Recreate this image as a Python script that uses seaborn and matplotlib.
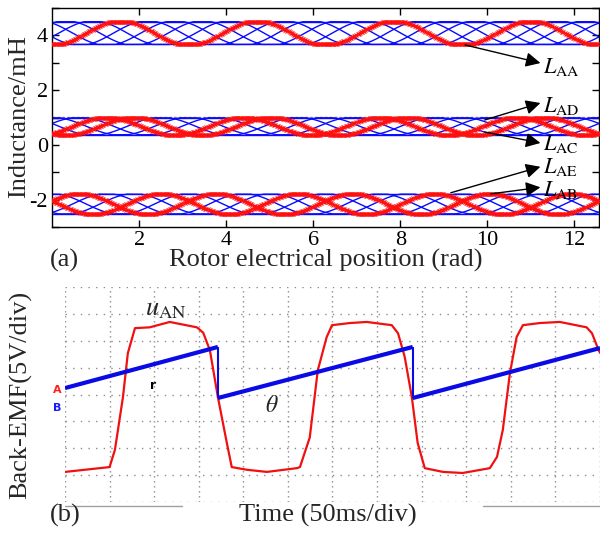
import numpy as np
import matplotlib
matplotlib.use("Agg")
import matplotlib.pyplot as plt
from matplotlib.ticker import MultipleLocator
import seaborn as sns

# ---- (a) inductance profiles of the five-phase machine ----
phases = ["A", "B", "C", "D", "E"]
band_names = ["self", "nonadjacent", "adjacent"]
band_mean = [4.085, 0.68, -2.16]
band_amp = [-0.45, 0.33, 0.38]          # self inductance dips at theta = 0
band_top = [4.50, 0.99, -1.80]          # saturated (flat) upper level
band_bottom = [3.67, 0.37, -2.52]       # flat lower level
band_step = [0, 2, 1]                   # partner phase offset: AA, AC/AD, AB/AE
ref_line = 1.02                         # grey dashed reference above middle band

ann_labels = ["AA", "AD", "AC", "AE", "AB"]
ann_tail_x = [9.49, 9.94, 9.94, 9.16, 10.08]
ann_tail_y = [3.65, 0.91, 0.47, -1.75, -1.79]
ann_head_y = [2.99, 1.53, 0.07, -0.80, -1.55]
ann_text_y = [2.63, 1.20, -0.20, -1.04, -1.86]

# ---- (b) oscilloscope traces, in screen divisions ----
uan_t = [0.0, 1.0, 1.12, 1.30, 1.41, 1.57, 1.90, 2.35, 2.96, 3.10, 3.25, 3.43, 3.63,
         3.74, 4.08, 4.53, 5.20, 5.27, 5.49, 5.67, 5.87, 5.99, 6.39, 6.77, 7.33, 7.47,
         7.62, 7.78, 7.91, 8.07, 8.48, 8.92, 9.53, 9.69, 9.82, 9.98, 10.13, 10.27,
         10.65, 11.10, 11.70, 11.82, 11.95, 12.0]
uan_v = [-2.88, -2.70, -2.06, -0.10, 1.54, 2.47, 2.50, 2.70, 2.50, 2.30, 1.65, -0.10,
         -1.80, -2.70, -2.80, -2.88, -2.74, -2.70, -1.60, 0.90, 2.14, 2.58, 2.66, 2.70,
         2.58, 2.28, 1.40, -0.10, -1.80, -2.74, -2.88, -2.92, -2.74, -2.32, -1.32, 0.80,
         2.14, 2.58, 2.66, 2.70, 2.50, 2.28, 1.73, 1.55]
theta_t = [0.0, 3.43, 3.43, 7.80, 7.80, 12.0]
theta_v = [0.24, 1.77, -0.13, 1.77, -0.13, 1.73]

sns.set_theme(style="white")
plt.rcParams["font.family"] = ["Liberation Serif", "DejaVu Serif"]
plt.rcParams["mathtext.fontset"] = "stix"
plt.rcParams["axes.unicode_minus"] = False

fig = plt.figure(figsize=(6.0, 5.34), dpi=100)
ax1 = fig.add_axes([0.0867, 0.5749, 0.9117, 0.4101])
ax2 = fig.add_axes([0.1083, 0.0599, 0.8917, 0.4026])

theta = np.linspace(0, 4 * np.pi, 1000)
alpha = [2 * np.pi * k / 5 for k in range(len(phases))]


def profile(b, j, k):
    y = band_mean[b] + band_amp[b] * np.cos(2 * theta - alpha[j] - alpha[k])
    return np.clip(y, band_bottom[b], band_top[b])


ax1.axhline(ref_line, color="#8c8c8c", lw=1.0, ls=(0, (2, 1.5)), zorder=1)
red_curves = []
for b, name in enumerate(band_names):
    step = band_step[b]
    for j in range(len(phases)):
        k = (j + step) % 5
        y = profile(b, j, k)
        if j == 0 or k == 0:
            red_curves.append(y)
        else:
            ax1.plot(theta, y, color="#0a0aff", lw=1.0, zorder=2)
    ax1.axhline(band_top[b], color="#0a0aff", lw=1.0, zorder=2)
    ax1.axhline(band_bottom[b], color="#0a0aff", lw=1.0, zorder=2)
for y in red_curves:
    ax1.plot(theta, y, color="#ff1010", lw=0.9, marker="x", markersize=2.2,
             markeredgewidth=0.7, markevery=2, zorder=3)

ax1.set_xlim(0, 4 * np.pi)
ax1.set_ylim(-3, 5)
ax1.set_xticks([2, 4, 6, 8, 10, 12])
ax1.set_yticks([-2, 0, 2, 4])
ax1.yaxis.set_minor_locator(MultipleLocator(1))
ax1.tick_params(which="both", direction="in", top=True, right=True, bottom=True,
                left=True, length=5, width=1, colors="black", labelsize=16, pad=3)
for s in ax1.spines.values():
    s.set_color("black")
    s.set_linewidth(1.0)

for lab, tx, ty, hy, ly in zip(ann_labels, ann_tail_x, ann_tail_y, ann_head_y, ann_text_y):
    ax1.annotate("", xy=(11.22, hy), xytext=(tx, ty),
                 arrowprops=dict(arrowstyle="-|>", color="black", lw=1.0,
                                 mutation_scale=22, shrinkA=0, shrinkB=0),
                 annotation_clip=False, zorder=5)
    ax1.text(11.27, ly, r"$L_{\mathrm{%s}}$" % lab, fontsize=16, ha="left",
             va="baseline", color="black", zorder=6)

# ---- (b) ----
ax2.set_xlim(0, 12)
ax2.set_ylim(-4, 4)
ax2.set_xticks(range(13))
ax2.set_yticks(range(-4, 5))
ax2.xaxis.grid(True, color="#8c8c8c", lw=1.0, ls=(0, (1, 2.6)))
ax2.yaxis.grid(True, color="#8c8c8c", lw=1.0, ls=(0, (1, 4.5)))
ax2.tick_params(length=0, labelbottom=False, labelleft=False)
for s in ax2.spines.values():
    s.set_visible(False)

sns.lineplot(x=uan_t, y=uan_v, ax=ax2, color="#f01010", lw=1.6,
             estimator=None, sort=False, zorder=3)
for i in range(len(theta_t) - 1):
    ramp = theta_t[i + 1] != theta_t[i]
    ax2.plot(theta_t[i:i + 2], theta_v[i:i + 2], color="#0a0ae6",
             lw=3.0 if ramp else 1.5, solid_capstyle="butt", zorder=4)
ax2.set_xlabel("")
ax2.set_ylabel("")

ax2.text(1.79, 2.95, r"$u_{\mathrm{AN}}$", fontsize=19, ha="left", va="baseline")
ax2.text(4.48, -0.65, r"$\theta$", fontsize=17, ha="left", va="baseline")
ax2.text(-0.18, 0.17, "A", color="#ff2020", fontsize=8, fontweight="bold",
         family="DejaVu Sans", ha="center", va="center", clip_on=False)
ax2.text(-0.18, -0.50, "B", color="#1a1aff", fontsize=8, fontweight="bold",
         family="DejaVu Sans", ha="center", va="center", clip_on=False)
ax2.text(1.97, 0.35, "r", color="black", fontsize=9, fontweight="bold",
         family="DejaVu Sans", ha="center", va="center")
ax2.plot([0, 2.62], [-4.15, -4.15], color="#a0a0a0", lw=1.0, clip_on=False)
ax2.plot([9.37, 12], [-4.15, -4.15], color="#a0a0a0", lw=1.0, clip_on=False)

fig.text(0.0317, 0.781, "Inductance/mH", rotation=90, ha="center", va="center", fontsize=19)
fig.text(0.543, 0.513, "Rotor electrical position (rad)", ha="center", va="center", fontsize=19)
fig.text(0.083, 0.513, "(a)", ha="left", va="center", fontsize=19)
fig.text(0.035, 0.260, "Back-EMF(5V/div)", rotation=90, ha="center", va="center", fontsize=19)
fig.text(0.547, 0.034, "Time (50ms/div)", ha="center", va="center", fontsize=19)
fig.text(0.083, 0.034, "(b)", ha="left", va="center", fontsize=19)

fig.savefig("out.png", dpi=100)
